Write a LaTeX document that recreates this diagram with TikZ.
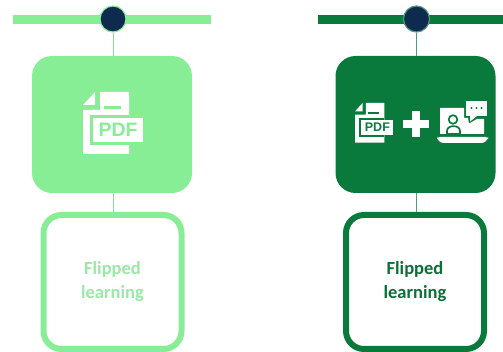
\documentclass[tikz,border=0pt]{standalone}
\usepackage{fontspec}
\setmainfont{Carlito}
\newfontfamily\pdffont{Liberation Sans}
\definecolor{lgreen}{HTML}{88EE95}
\definecolor{lline}{HTML}{8FD8A0}
\definecolor{ltext}{HTML}{9BE8A8}
\definecolor{dgreen}{HTML}{0A7A3C}
\definecolor{dline}{HTML}{4F9A78}
\definecolor{dtext}{HTML}{0B7038}
\definecolor{navy}{HTML}{0F2A4F}
\tikzset{
  barbox/.style={rectangle,minimum width=#1,minimum height=9pt,inner sep=0pt},
  dotnode/.style={circle,fill=navy,minimum size=26pt,inner sep=0pt,line width=1.2pt},
  iconbox/.style={rectangle,rounded corners=20pt,minimum width=160pt,minimum height=137pt,inner sep=0pt},
  textbox/.style={rectangle,rounded corners=18pt,fill=white,line width=6pt,minimum width=138pt,minimum height=134pt,inner sep=0pt,
    align=center,font=\fontsize{18.5}{24}\selectfont\bfseries},
  link/.style={line width=0.9pt}
}
% PDF icon: #1,#2 = top-left of page, #3 = scale, #4 = background colour, #5 = label font size
\newcommand{\pdficon}[5]{%
  \begin{scope}[shift={(#1,#2)},x=#3pt,y=-#3pt]
    \fill[white] (0,13) -- (12,0) -- (12,13) -- cycle;
    \fill[white] (17,0) -- (46,0) -- (46,62) -- (0,62) -- (0,18) -- (17,18) -- cycle;
    \fill[#4] (21,14) rectangle (38,17);
    \fill[#4] (6.5,23) rectangle (46,53);
    \fill[white] (9.5,26) rectangle (60,50);
    \node[text=#4,font=\pdffont\bfseries\fontsize{#5}{#5}\selectfont,inner sep=0pt] (pdf#1) at (35,38) {PDF};
  \end{scope}}
\begin{document}
\begin{tikzpicture}[x=1pt,y=-1pt]
\useasboundingbox (0,0) rectangle (503,352);
% left column
\node[barbox=198pt,fill=lgreen] (barL) at (112,19.5) {};
\node[iconbox,fill=lgreen] (boxL) at (112,124.5) {};
\node[textbox,draw=lgreen,text=ltext] (txtL) at (112.5,282) {Flipped\\learning};
\node[dotnode,draw=lgreen] (dotL) at (113,19) {};
\draw[link,lline] (dotL.south) -- (dotL.south |- boxL.north);
\draw[link,lline] (dotL.south |- boxL.south) -- (dotL.south |- txtL.north);
\pdficon{83}{92}{1}{lgreen}{19.5}
% right column
\node[barbox=185pt,fill=dgreen] (barR) at (410.5,19.5) {};
\node[iconbox,fill=dgreen] (boxR) at (415.5,124.5) {};
\node[textbox,draw=dgreen,text=dtext] (txtR) at (415,282) {Flipped\\learning};
\node[dotnode,draw=dline] (dotR) at (416.5,19) {};
\draw[link,dline] (dotR.south) -- (dotR.south |- boxR.north);
\draw[link,dline] (dotR.south |- boxR.south) -- (dotR.south |- txtR.north);
\pdficon{355}{103}{0.64}{dgreen}{12.5}
% plus
\fill[white] (412,111) rectangle (420,137);
\fill[white] (403,120) rectangle (429,128);
% laptop
\fill[white,rounded corners=2.5pt] (437,137) -- (488,137) -- (488,139) -- (484,143) -- (441,143) -- (437,139) -- cycle;
\fill[white] (440,108) -- (464,108) -- (464,118) -- (468,118) -- (469,123.5) -- (477,119) -- (484,119) -- (484,134) -- (440,134) -- cycle;
\fill[white] (466,101) rectangle (487,116.5);
\fill[white] (470,116) -- (477,116) -- (470,121.5) -- cycle;
\draw[dgreen,line width=1.7pt] (453,119.5) circle (4.3pt);
\draw[dgreen,line width=1.7pt] (447,134) -- (447,131) .. controls (447,124.5) and (460,124.5) .. (460,131) -- (460,134) -- cycle;
\fill[dgreen] (471.5,108) circle (1.1pt) (476.5,108) circle (1.1pt) (481.5,108) circle (1.1pt);
\end{tikzpicture}
\end{document}
